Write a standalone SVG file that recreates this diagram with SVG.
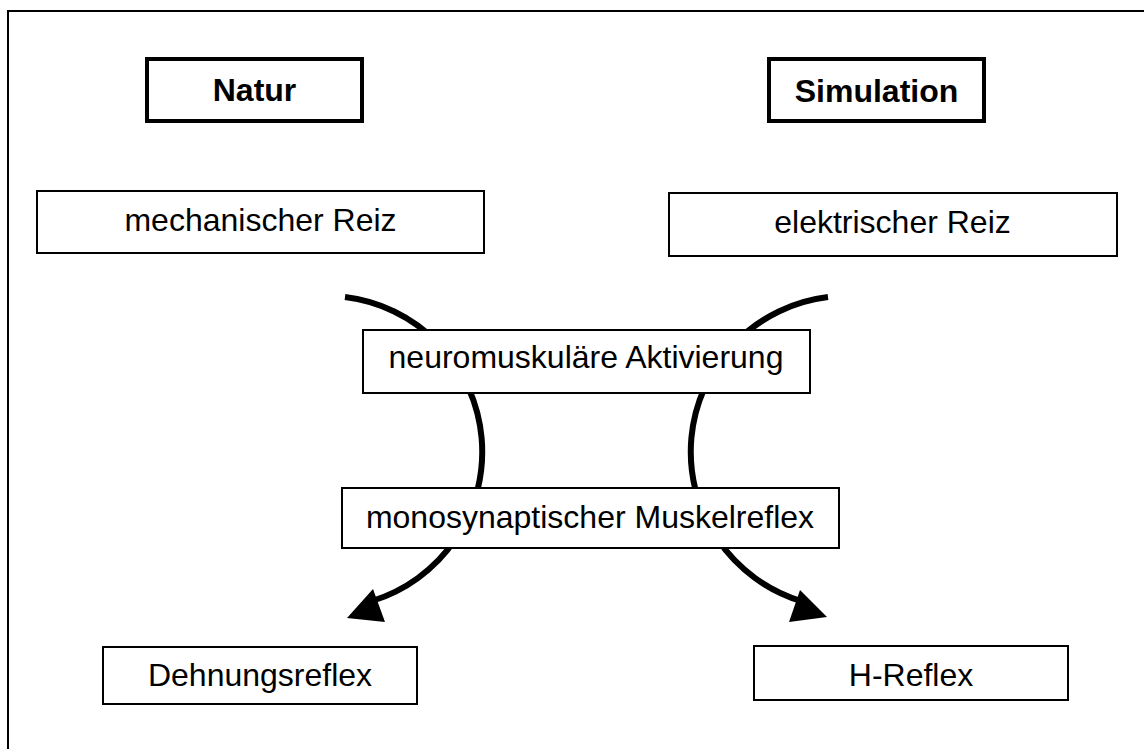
<svg xmlns="http://www.w3.org/2000/svg" width="1144" height="749" viewBox="0 0 1144 749">
<style>
.frame{fill:none;stroke:#000;stroke-width:2}
.box{fill:#fff;stroke:#000;stroke-width:2}
.tbox{fill:#fff;stroke:#000;stroke-width:4}
.lbl{font-family:"Liberation Sans",Arial,sans-serif;font-size:32px;fill:#000;text-anchor:middle}
.bold{font-weight:bold}
.arc{fill:none;stroke:#000;stroke-width:6}
.head{fill:#000;stroke:none}
</style>
<rect width="1144" height="749" fill="#fff"/>
<rect class="frame" x="8" y="11" width="1160" height="760"/>
<g id="connectors">
  <path class="arc" d="M345,297 A156,156 0 0 1 372,601"/>
  <polygon class="head" points="347,618 373,589 385,622"/>
  <path class="arc" d="M828,297 A156,156 0 0 0 801,601"/>
  <polygon class="head" points="827,617 800,590 789,622"/>
</g>
<g id="natur">
  <rect class="tbox" x="147" y="59" width="215" height="62"/>
  <text class="lbl bold" x="254.5" y="101">Natur</text>
</g>
<g id="simulation">
  <rect class="tbox" x="769" y="59" width="215" height="62"/>
  <text class="lbl bold" x="876.5" y="102">Simulation</text>
</g>
<g id="mechanisch">
  <rect class="box" x="37" y="191" width="447" height="62"/>
  <text class="lbl" x="260.5" y="231">mechanischer Reiz</text>
</g>
<g id="elektrisch">
  <rect class="box" x="669" y="193" width="448" height="63"/>
  <text class="lbl" x="892.5" y="233">elektrischer Reiz</text>
</g>
<g id="aktivierung">
  <rect class="box" x="363" y="330" width="447" height="63"/>
  <text class="lbl" x="586" y="368">neuromuskuläre Aktivierung</text>
</g>
<g id="muskelreflex">
  <rect class="box" x="342" y="488" width="497" height="60"/>
  <text class="lbl" x="590" y="528">monosynaptischer Muskelreflex</text>
</g>
<g id="dehnungsreflex">
  <rect class="box" x="103" y="647" width="314" height="57"/>
  <text class="lbl" x="260" y="686">Dehnungsreflex</text>
</g>
<g id="hreflex">
  <rect class="box" x="754" y="646" width="314" height="54"/>
  <text class="lbl" x="911" y="686">H-Reflex</text>
</g>
</svg>
